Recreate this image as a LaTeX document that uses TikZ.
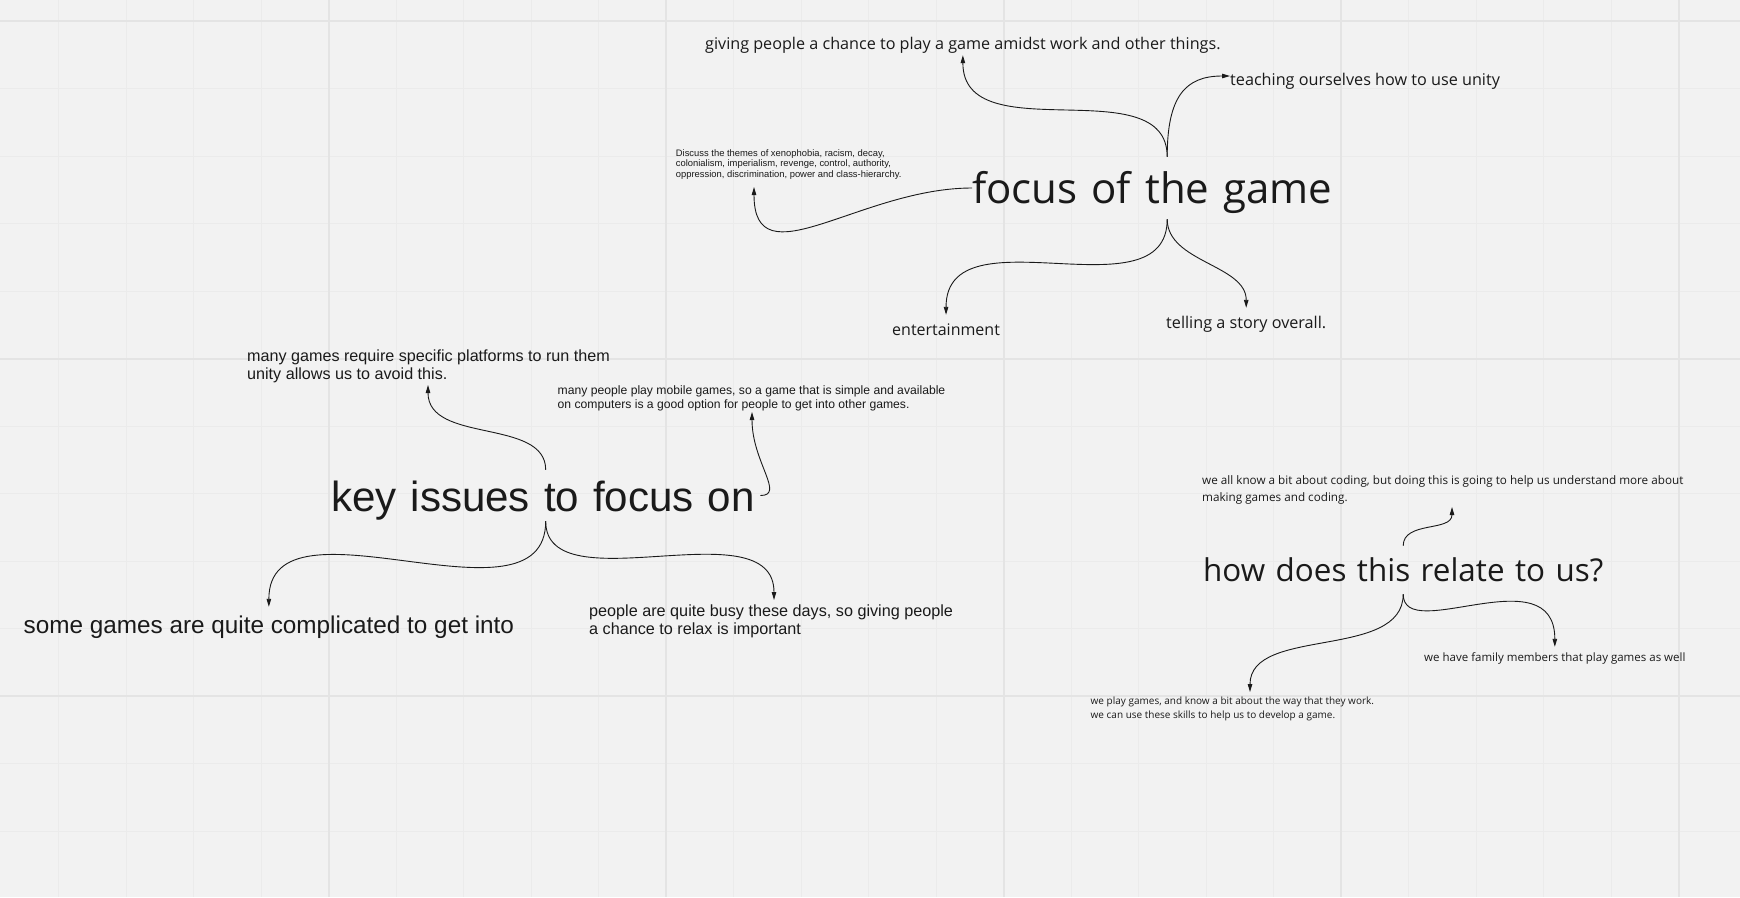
\documentclass[tikz,border=0pt]{standalone}
\usepackage{fontspec}
\newfontfamily\osans{Open Sans}
\newfontfamily\arial{Liberation Sans}
\usetikzlibrary{arrows.meta}
\definecolor{bg}{HTML}{F2F2F2}
\definecolor{gridminor}{HTML}{EBEBEB}
\definecolor{gridmajor}{HTML}{E4E4E4}
\definecolor{ink}{HTML}{1A1A1A}
\begin{document}
\begin{tikzpicture}[x=1pt,y=-1pt,
  conn/.style={draw=ink, line width=0.9pt, -{Triangle[length=8pt,width=4.5pt]}},
  lbl/.style={anchor=base west, inner sep=0pt, text=ink},
  hub/.style={anchor=base west, inner sep=0pt, text=ink, align=left},
]
\useasboundingbox (0,0) rectangle (1740,897);
\fill[bg] (0,0) rectangle (1740,897);
\begin{scope}
\clip (0,0) rectangle (1740,897);
\foreach \i in {0,...,25} \draw[gridminor, line width=1pt] ({58.5+67.5*\i},0) -- ({58.5+67.5*\i},897);
\foreach \j in {0,...,13} \draw[gridminor, line width=1pt] (0,{21+67.5*\j}) -- (1740,{21+67.5*\j});
\foreach \i in {0,...,4} \draw[gridmajor, line width=2pt] ({328.5+337.5*\i},0) -- ({328.5+337.5*\i},897);
\foreach \j in {0,...,2} \draw[gridmajor, line width=2pt] (0,{21+337.5*\j}) -- (1740,{21+337.5*\j});
\end{scope}

% hubs
\node[hub, text width=390pt, text height=46pt, text depth=16pt, font={\osans\fontsize{42}{50}\selectfont}] (focus) at (972,203) {\mbox{focus of the game}};
\node[hub, text width=429pt, text height=41.7pt, text depth=9.3pt, font={\arial\fontsize{42.1}{48}\selectfont}] (key) at (331,511.7) {\mbox{key issues to focus on}};
\node[hub, text width=400pt, text height=35.7pt, text depth=12.3pt, font={\osans\fontsize{31.4}{40}\selectfont}] (how) at (1203,581.7) {\mbox{how does this relate to us?}};

% leaves around focus
\node[lbl, text height=14.5pt, text depth=5.5pt, font={\osans\fontsize{16.17}{21.8}\selectfont}] (giving) at (705,49.5) {giving people a chance to play a game amidst work and other things.};
\node[lbl, text height=18pt, text depth=0pt, font={\osans\fontsize{16.2}{21.8}\selectfont}] (teaching) at (1230,85) {teaching ourselves how to use unity};
\node[lbl, text height=20pt, text depth=4pt, font={\osans\fontsize{16}{21.8}\selectfont}] (ent) at (892,335) {entertainment};
\node[lbl, text height=20.5pt, text depth=4pt, font={\osans\fontsize{16.2}{21.8}\selectfont}] (tell) at (1166,328.5) {telling a story overall.};
\node[lbl, font={\arial\fontsize{9.4}{10.8}\selectfont}] (disc) at (675.7,156) {\parbox[t]{260pt}{\raggedright Discuss the themes of xenophobia, racism, decay,\\ colonialism, imperialism, revenge, control, authority,\\ oppression, discrimination, power and class-hierarchy.}};

% leaves around key
\node[lbl, font={\arial\fontsize{16.15}{17.7}\selectfont}] (mg) at (247,361.5) {\parbox[t]{400pt}{\raggedright many games require specific platforms to run them\\ unity allows us to avoid this.}};
\node[lbl, font={\arial\fontsize{12.17}{13.7}\selectfont}] (mp) at (557.5,394.5) {\parbox[t]{420pt}{\raggedright many people play mobile games, so a game that is simple and available\\ on computers is a good option for people to get into other games.}};
\node[lbl, text height=26pt, text depth=6pt, font={\arial\fontsize{24.3}{29}\selectfont}] (sg) at (23.5,633) {some games are quite complicated to get into};
\node[lbl, font={\arial\fontsize{16.2}{18}\selectfont}] (pb) at (589,616.5) {\parbox[t]{400pt}{\raggedright people are quite busy these days, so giving people\\ a chance to relax is important}};

% leaves around how
\node[lbl, font={\osans\fontsize{11.7}{17}\selectfont}] (wk) at (1202,484) {\parbox[t]{520pt}{\raggedright we all know a bit about coding, but doing this is going to help us understand more about\\ making games and coding.}};
\node[lbl, text height=14pt, text depth=4pt, font={\osans\fontsize{11.5}{15.6}\selectfont}] (fam) at (1424,661) {we have family members that play games as well};
\node[lbl, font={\osans\fontsize{10}{14}\selectfont}] (wp) at (1090.5,704.5) {\parbox[t]{320pt}{\raggedright we play games, and know a bit about the way that they work.\\ we can use these skills to help us to develop a game.}};

% connectors
\draw[conn] (focus.north) .. controls +(0,-89) and +(0,97) .. (giving.south);
\draw[conn] (focus.north) .. controls +(0,-60) and +(-45,0) .. (teaching.west);
\draw[conn] (focus.west) .. controls +(-112,0) and +(0,95) .. ([shift={(78.3,31)}]disc.base west);
\draw[conn] (focus.south) .. controls +(0,99) and +(0,-106) .. (ent.north);
\draw[conn] (focus.south) .. controls +(0,43) and +(0,-43) .. (tell.north);

\draw[conn] (key.north) .. controls +(0,-52) and +(0,59) .. ([shift={(181,23.5)}]mg.base west);
\draw[conn] (key.east) .. controls +(25,0) and +(0,50) .. ([shift={(194.5,17.5)}]mp.base west);
\draw[conn] (key.south) .. controls +(0,115) and +(0,-120) .. (sg.north);
\draw[conn] (key.south) .. controls +(0,85) and +(0,-94) .. ([shift={(185,-16.5)}]pb.base west);

\draw[conn] (how.north) .. controls +(0,-25) and +(0,25) .. ([shift={(250,23)}]wk.base west);
\draw[conn] (how.south) .. controls +(0,51) and +(0,-92) .. (fam.north);
\draw[conn] (how.south) .. controls +(0,66) and +(0,-66) .. ([shift={(159.5,-12.5)}]wp.base west);
\end{tikzpicture}
\end{document}
